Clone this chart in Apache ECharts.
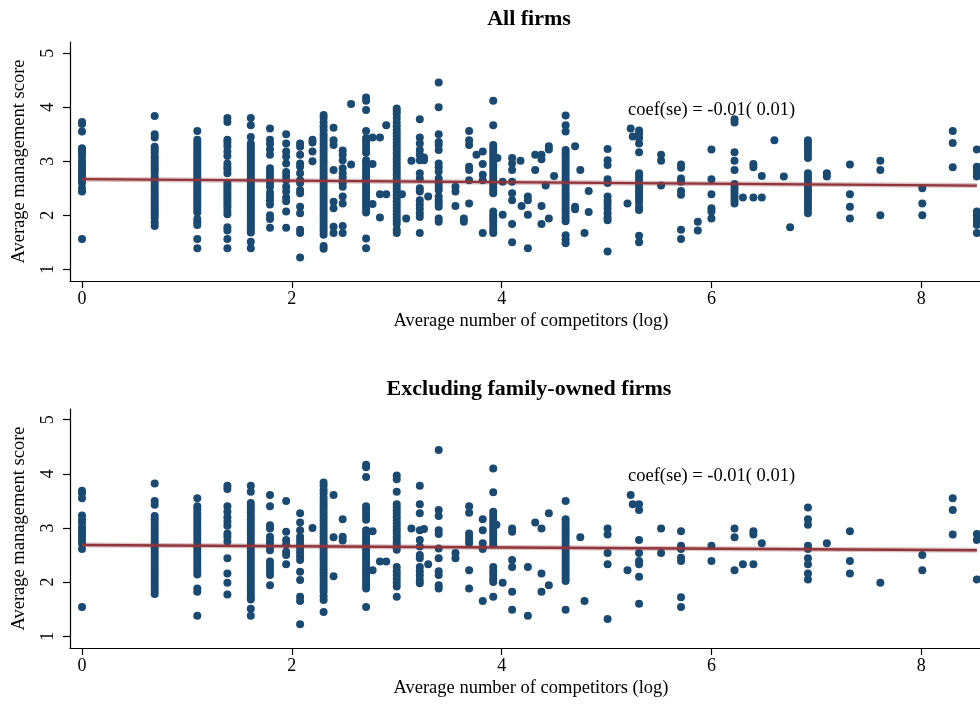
<!DOCTYPE html>
<html><head><meta charset="utf-8">
<script src="https://cdn.jsdelivr.net/npm/echarts@6/dist/echarts.min.js"></script>
<style>html,body{margin:0;padding:0;background:#fff}#c{width:980px;height:707px}</style>
</head><body><div id="c"></div>
<script>
const panelTitles = ['All firms', 'Excluding family-owned firms'];
const xAxisName = 'Average number of competitors (log)';
const yAxisName = 'Average management score';
const xTicks = [0, 2, 4, 6, 8];
const yTicks = [1, 2, 3, 4, 5];
const annotationText = 'coef(se) = -0.01( 0.01)';
const annotationAt = [5.2, 3.95];

// [x (log competitors), [management scores at that x]]
const allFirmsStripes = [
  [0, [3.73,3.69,3.55,3.24,3.2,3.15,3.1,3.02,2.96,2.9,2.85,2.8,2.75,2.7,2.64,2.6,2.5,2.44,1.56]],
  [0.693, [3.84,3.5,3.44,3.27,3.22,3.17,3.1,3.05,3.0,2.95,2.9,2.85,2.8,2.73,2.68,2.62,2.56,2.5,2.45,2.4,2.35,2.3,2.25,2.2,2.15,2.1,2.05,2.0,1.95,1.87,1.8]],
  [1.099, [3.56,3.4,3.35,3.3,3.25,3.2,3.15,3.1,3.05,3.0,2.95,2.9,2.85,2.8,2.75,2.7,2.65,2.6,2.55,2.5,2.45,2.4,2.35,2.3,2.25,2.2,2.15,2.1,2.05,1.93,1.87,1.82,1.56,1.39]],
  [1.386, [3.8,3.73,3.4,3.35,3.28,3.18,3.1,2.96,2.9,2.85,2.78,2.6,2.55,2.5,2.45,2.4,2.35,2.3,2.25,2.2,2.15,2.08,2.02,1.78,1.72,1.56,1.39]],
  [1.609, [3.8,3.67,3.45,3.33,3.28,3.23,3.18,3.13,3.08,3.03,2.98,2.93,2.88,2.83,2.78,2.73,2.68,2.63,2.58,2.53,2.48,2.43,2.38,2.33,2.28,2.23,2.18,2.13,2.08,2.03,1.98,1.93,1.88,1.83,1.78,1.73,1.68,1.51,1.39]],
  [1.792, [3.61,3.4,3.32,3.22,3.12,2.87,2.8,2.74,2.68,2.6,2.53,2.42,2.35,2.28,2.2,2.0,1.93,1.77]],
  [1.946, [3.5,3.33,3.18,3.09,2.96,2.8,2.73,2.65,2.53,2.44,2.33,2.26,2.07,1.77]],
  [2.079, [3.33,3.27,3.12,2.96,2.9,2.78,2.65,2.6,2.47,2.41,2.16,2.04,1.73,1.67,1.22]],
  [2.197, [3.4,3.35,3.18,3.0]],
  [2.303, [3.86,3.8,3.72,3.65,3.58,3.5,3.44,3.38,3.32,3.26,3.2,3.14,3.08,3.02,2.96,2.9,2.84,2.78,2.72,2.66,2.6,2.54,2.48,2.42,2.36,2.3,2.24,2.18,2.12,2.06,2.0,1.94,1.88,1.82,1.76,1.7,1.64,1.43,1.38]],
  [2.398, [3.62,3.39,3.3,2.84,2.25,2.13,1.79,1.67]],
  [2.485, [3.2,3.12,3.02,2.87,2.78,2.7,2.6,2.53,2.35,2.22,1.8,1.67]],
  [2.565, [4.06,2.94]],
  [2.708, [4.18,4.12,3.95,3.56,3.43,3.37,3.3,3.23,3.16,3.02,2.96,2.9,2.84,2.78,2.72,2.66,2.6,2.54,2.48,2.42,2.36,2.3,2.24,2.18,2.12,2.05,1.57,1.39]],
  [2.77, [3.44,2.95,2.21]],
  [2.84, [3.44,2.39,1.96]],
  [2.9, [3.67,2.39]],
  [3.0, [3.98,3.93,3.88,3.8,3.72,3.65,3.58,3.52,3.46,3.4,3.34,3.28,3.22,3.16,3.1,3.04,2.98,2.92,2.86,2.8,2.74,2.68,2.62,2.56,2.5,2.44,2.38,2.32,2.26,2.2,2.14,2.08,2.02,1.96,1.9,1.84,1.73,1.67]],
  [3.05, [2.39]],
  [3.09, [1.94]],
  [3.14, [3.01]],
  [3.22, [3.78,3.44,3.33,3.21,3.12,3.02,2.78,2.68,2.5,2.44,2.28,2.2,2.12,2.04,1.97,1.67]],
  [3.26, [3.07,3.02]],
  [3.3, [2.35]],
  [3.4, [4.46,4.0,3.5,3.36,3.3,3.21,2.96,2.89,2.81,2.68,2.6,2.53,2.47,2.35,2.28,2.22,2.16,1.94,1.88]],
  [3.56, [2.53,2.44,2.17]],
  [3.64, [1.94,1.88]],
  [3.69, [3.56,3.39,3.3,2.9,2.84,2.65,2.22]],
  [3.76, [3.12]],
  [3.82, [3.18,2.95,2.75,2.65,1.67]],
  [3.92, [4.12,3.67,3.3,3.24,3.18,3.12,3.06,3.0,2.94,2.88,2.82,2.76,2.7,2.64,2.58,2.52,2.46,2.41,2.07,2.0,1.94,1.88,1.8,1.73,1.67]],
  [3.96, [3.06]],
  [4.01, [2.62,2.01]],
  [4.1, [3.06,2.96,2.84,2.62,2.41,2.28,1.84,1.5]],
  [4.18, [3.01]],
  [4.19, [2.17]],
  [4.25, [2.35,2.28,2.01,1.39]],
  [4.32, [3.12,2.84]],
  [4.38, [3.12,3.04,2.17,1.84]],
  [4.42, [2.55]],
  [4.45, [3.28,3.22,1.94]],
  [4.5, [2.73]],
  [4.61, [3.85,3.67,3.55,3.21,3.15,3.09,3.03,2.97,2.91,2.85,2.79,2.73,2.67,2.61,2.55,2.49,2.43,2.37,2.31,2.25,2.19,2.13,2.07,2.01,1.95,1.89,1.63,1.55,1.48]],
  [4.7, [3.28,2.16,2.11]],
  [4.75, [2.84]],
  [4.79, [1.67]],
  [4.83, [2.45,2.06]],
  [5.01, [3.23,3.02,2.93,2.67,2.6,2.35,2.27,2.2,2.12,2.04,1.96,1.91,1.33]],
  [5.2, [2.22]],
  [5.23, [3.61]],
  [5.25, [3.46]],
  [5.31, [3.57,3.51,3.43,3.33,3.17,2.78,2.72,2.66,2.6,2.54,2.48,2.42,2.36,2.3,2.24,2.16,2.1,1.62,1.5]],
  [5.52, [3.12,3.01,2.55]],
  [5.71, [2.94,2.88,2.68,2.62,2.45,2.38,1.73,1.56]],
  [5.87, [1.88,1.72]],
  [6.0, [3.22,2.67,2.39,2.13,2.07,1.94]],
  [6.22, [3.78,3.72,3.17,3.01,2.84,2.58,2.52,2.46,2.4,2.34,2.28,2.22]],
  [6.3, [2.33]],
  [6.4, [2.95,2.89,2.33]],
  [6.48, [2.73,2.33]],
  [6.6, [3.39]],
  [6.69, [2.72]],
  [6.75, [1.78]],
  [6.92, [3.39,3.33,3.27,3.2,3.13,3.06,2.78,2.72,2.66,2.6,2.54,2.48,2.42,2.36,2.3,2.24,2.18,2.11,2.04]],
  [7.1, [2.78,2.72]],
  [7.32, [2.94,2.39,2.16,1.94]],
  [7.61, [3.01,2.84,2.0]],
  [8.01, [2.5,2.22,2.0]],
  [8.3, [3.56,3.34,2.89]],
  [8.53, [3.22,2.9,2.84,2.78,2.72,2.07,2.0,1.94,1.88,1.82,1.67]]
];

const nonFamilyStripes = [
  [0, [3.69,3.64,3.55,3.23,3.15,3.1,3.02,2.96,2.9,2.84,2.78,2.72,2.61,1.54]],
  [0.693, [3.82,3.5,3.43,3.22,3.16,3.1,3.04,2.98,2.92,2.86,2.8,2.74,2.68,2.62,2.56,2.5,2.44,2.38,2.32,2.26,2.2,2.14,2.08,2.02,1.96,1.9,1.84,1.78]],
  [1.099, [3.55,3.4,3.34,3.28,3.22,3.16,3.1,3.04,2.98,2.92,2.86,2.8,2.74,2.68,2.62,2.56,2.5,2.44,2.38,2.32,2.26,2.2,2.14,1.88,1.82,1.38]],
  [1.386, [3.78,3.72,3.4,3.3,3.2,3.12,3.04,2.9,2.84,2.75,2.44,2.16,1.99,1.77]],
  [1.609, [3.78,3.67,3.46,3.4,3.34,3.28,3.22,3.16,3.1,3.04,2.98,2.92,2.86,2.8,2.74,2.68,2.62,2.56,2.5,2.44,2.38,2.32,2.26,2.2,2.14,2.08,2.02,1.96,1.9,1.84,1.78,1.72,1.68,1.51,1.38]],
  [1.792, [3.61,3.4,3.05,2.99,2.84,2.78,2.72,2.65,2.59,2.38,2.32,2.26,2.19,2.13,1.94]],
  [1.946, [3.5,2.93,2.78,2.7,2.56,2.5,2.33]],
  [2.079, [3.27,3.1,2.96,2.84,2.77,2.7,2.62,2.55,2.48,2.41,2.19,2.04,1.73,1.65,1.22]],
  [2.197, [3.0]],
  [2.303, [3.84,3.78,3.7,3.64,3.56,3.5,3.44,3.38,3.32,3.26,3.2,3.14,3.08,3.02,2.96,2.9,2.84,2.78,2.72,2.66,2.6,2.54,2.48,2.42,2.36,2.3,2.24,2.18,2.12,2.06,2.0,1.94,1.88,1.82,1.74,1.67,1.45]],
  [2.398, [3.61,2.83,2.11]],
  [2.485, [3.16,2.84,2.77]],
  [2.708, [4.17,4.12,3.94,3.4,3.34,3.28,3.21,3.15,2.96,2.9,2.84,2.78,2.72,2.66,2.6,2.54,2.48,2.42,2.36,2.3,2.24,2.18,2.12,2.06,2.0,1.94,1.88,1.54]],
  [2.77, [2.94,2.22]],
  [2.84, [2.38]],
  [2.9, [2.38]],
  [3.0, [3.97,3.9,3.67,3.44,3.38,3.32,3.26,3.2,3.14,3.08,3.02,2.96,2.9,2.84,2.78,2.72,2.66,2.6,2.28,2.2,2.13,2.06,1.99,1.92,1.73]],
  [3.14, [2.99]],
  [3.22, [3.78,3.44,3.27,2.96,2.78,2.66,2.5,2.44,2.28,2.2,2.12,2.04,1.98]],
  [3.26, [2.98]],
  [3.3, [2.33]],
  [3.4, [4.44,3.33,3.22,2.96,2.89,2.62,2.44,2.2,2.13,1.94,1.88]],
  [3.56, [2.54,2.44]],
  [3.69, [3.4,3.28,2.9,2.84,2.78,2.72,2.22,1.88]],
  [3.82, [3.16,2.96,2.72,2.61,1.65]],
  [3.92, [4.1,3.66,3.3,3.24,3.18,3.12,3.06,3.0,2.94,2.88,2.82,2.76,2.7,2.28,2.2,2.13,2.06,2.0,1.73]],
  [3.95, [3.06]],
  [4.01, [1.99]],
  [4.1, [2.99,2.93,2.41,2.28,1.82,1.49]],
  [4.25, [2.28,1.38]],
  [4.32, [3.1]],
  [4.38, [2.99,2.16,1.82]],
  [4.45, [3.27,1.94]],
  [4.61, [3.5,3.16,3.1,3.04,2.98,2.92,2.86,2.8,2.74,2.68,2.62,2.56,2.5,2.44,2.38,2.32,2.26,2.2,2.14,2.08,2.02,1.49]],
  [4.75, [2.83]],
  [4.79, [1.65]],
  [5.01, [2.99,2.88,2.54,2.33,1.32]],
  [5.2, [2.22]],
  [5.23, [3.61]],
  [5.25, [3.44]],
  [5.31, [3.44,3.33,2.78,2.54,2.39,2.33,2.1,1.6]],
  [5.52, [2.99,2.54]],
  [5.71, [2.94,2.67,2.61,2.45,2.39,1.72,1.54]],
  [6.0, [2.67,2.39]],
  [6.22, [2.99,2.83,2.22]],
  [6.3, [2.33]],
  [6.4, [2.94,2.88,2.33]],
  [6.48, [2.72]],
  [6.92, [3.38,3.16,3.06,2.67,2.61,2.44,2.33,2.16,2.05]],
  [7.1, [2.72]],
  [7.32, [2.94,2.39,2.16]],
  [7.61, [1.99]],
  [8.01, [2.5,2.22]],
  [8.3, [3.55,3.33,2.88]],
  [8.53, [2.89,2.78,2.05]]
];

const fitAllFirms = [[0, 2.67], [8.53, 2.55]];
const fitNonFamily = [[0, 2.685], [8.53, 2.59]];

const DOT = '#1a4a72';
const FIT = '#90353b';
const FONT = 'Liberation Serif';

function toPoints(stripes) {
  return stripes.flatMap(([x, ys]) => ys.map(y => [x, y]));
}

const grids = [
  {left: 70, top: 42, right: 0, height: 239},
  {left: 70, top: 409, right: 0, height: 239}
];

function xAxisCfg(i) {
  return {
    type: 'value', gridIndex: i, min: -0.1144, max: 8.56,
    splitLine: {show: false},
    axisLine: {show: true, onZero: false, lineStyle: {color: '#000', width: 1.2}},
    axisTick: {show: true, length: 7, customValues: xTicks, lineStyle: {color: '#000', width: 1.2}},
    axisLabel: {customValues: xTicks, margin: 9, color: '#000', fontFamily: FONT, fontSize: 18},
    name: xAxisName, nameLocation: 'middle', nameGap: 31,
    nameTextStyle: {color: '#000', fontFamily: FONT, fontSize: 18.5, padding: [0, 0, 0, 12]}
  };
}
function yAxisCfg(i, min, max) {
  return {
    type: 'value', gridIndex: i, min: min, max: max,
    splitLine: {show: false},
    axisLine: {show: true, onZero: false, lineStyle: {color: '#000', width: 1.2}},
    axisTick: {show: true, length: 7, customValues: yTicks, lineStyle: {color: '#000', width: 1.2}},
    axisLabel: {customValues: yTicks, rotate: 90, margin: 13, color: '#000', fontFamily: FONT, fontSize: 18},
    name: yAxisName, nameLocation: 'middle', nameGap: 41,
    nameTextStyle: {color: '#000', fontFamily: FONT, fontSize: 18.5}
  };
}

function panelSeries(i, stripes, fit) {
  return [
    {type: 'scatter', xAxisIndex: i, yAxisIndex: i, data: toPoints(stripes),
     symbolSize: 8, itemStyle: {color: DOT, opacity: 1}, silent: true, z: 2},
    {type: 'line', xAxisIndex: i, yAxisIndex: i, data: fit, symbol: 'none',
     lineStyle: {color: FIT, width: 5, opacity: 0.3}, silent: true, z: 3},
    {type: 'line', xAxisIndex: i, yAxisIndex: i, data: fit, symbol: 'none',
     lineStyle: {color: FIT, width: 2.4}, silent: true, z: 4},
    {type: 'scatter', xAxisIndex: i, yAxisIndex: i, data: [annotationAt],
     symbolSize: 1, itemStyle: {color: 'rgba(0,0,0,0)'}, silent: true, z: 5,
     label: {show: true, position: 'right', distance: 0, formatter: annotationText,
             color: '#000', opacity: 1, textBorderWidth: 0,
             fontFamily: FONT, fontSize: 18.5}}
  ];
}

const chart = echarts.init(document.getElementById('c'), null, {renderer: 'canvas'});
chart.setOption({
  animation: false,
  backgroundColor: '#fff',
  title: [
    {text: panelTitles[0], left: 529, top: 8, textAlign: 'center', padding: 0,
     textStyle: {fontFamily: FONT, fontSize: 22, fontWeight: 'bold', color: '#000'}},
    {text: panelTitles[1], left: 529, top: 378, textAlign: 'center', padding: 0,
     textStyle: {fontFamily: FONT, fontSize: 22, fontWeight: 'bold', color: '#000'}}
  ],
  grid: grids,
  xAxis: [xAxisCfg(0), xAxisCfg(1)],
  yAxis: [yAxisCfg(0, 0.783, 5.21), yAxisCfg(1, 0.783, 5.198)],
  series: [].concat(panelSeries(0, allFirmsStripes, fitAllFirms), panelSeries(1, nonFamilyStripes, fitNonFamily))
});
</script>
</body></html>
